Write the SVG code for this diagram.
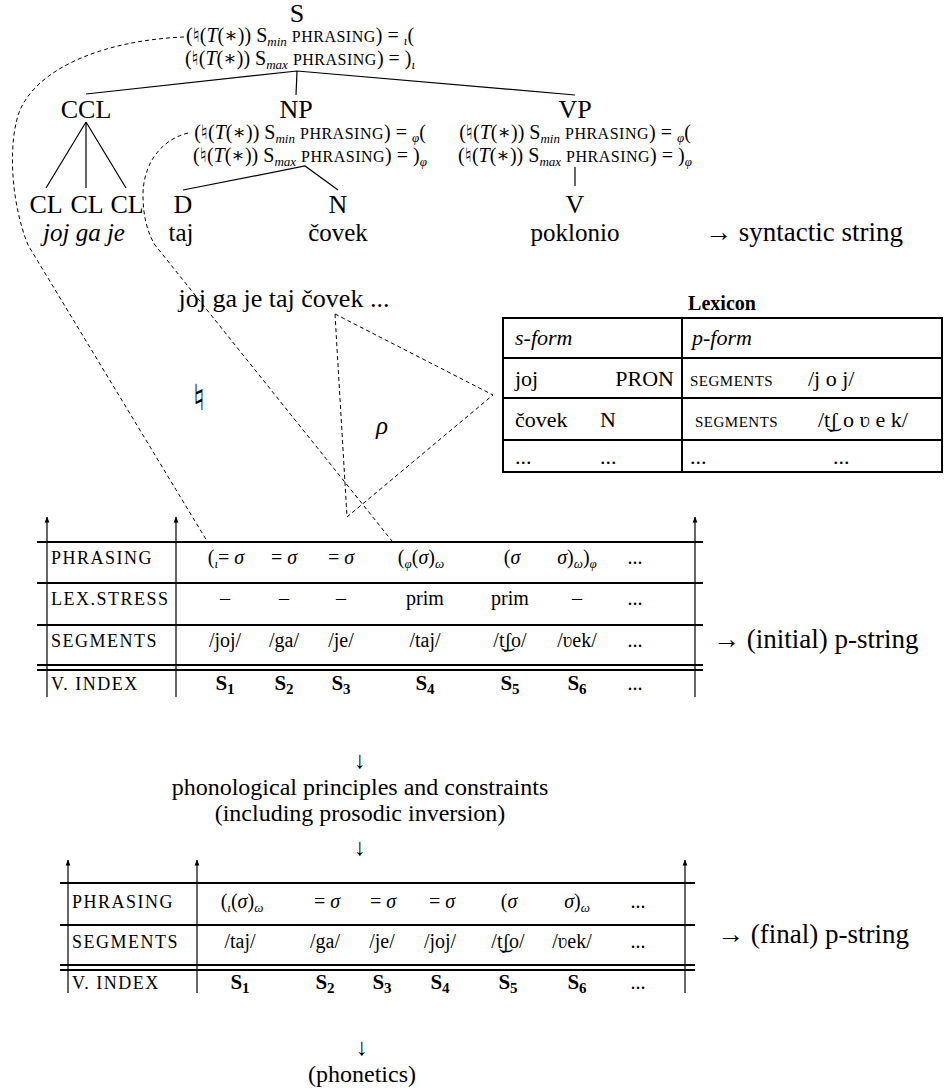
<svg xmlns="http://www.w3.org/2000/svg" width="945" height="1092" viewBox="0 0 945 1092">
<defs>
<style>
text{font-family:"Liberation Serif","DejaVu Serif",serif;fill:#000}
.node{font-size:26px}
.word{font-size:25px}
.ann{font-size:20px}
.as{font-size:13px;font-style:italic}
.asc{font-size:16px;letter-spacing:0.5px}
.it{font-style:italic}
.nat{font-family:"DejaVu Sans",sans-serif}
.cell{font-size:20px}
.cs{font-size:13px;font-style:italic}
.lab{font-size:18px;letter-spacing:1.5px}
.idx{font-size:21px;font-weight:bold}
.idxs{font-size:15px;font-weight:bold}
.lex{font-size:22px}
.lsc{font-size:15px;letter-spacing:0.5px}
.big{font-size:27px}
.mid{font-size:24px}
.ln{stroke:#000;stroke-width:1.2;fill:none}
.dash{stroke:#000;stroke-width:1;stroke-dasharray:4 3;fill:none}
.rule{stroke:#000;stroke-width:2}
.arr{stroke:#000;stroke-width:1.2;marker-end:url(#ah)}
</style>
<marker id="ah" viewBox="0 0 10 10" refX="9" refY="5" markerWidth="8" markerHeight="6" markerUnits="userSpaceOnUse" orient="auto">
<path d="M0,1 L10,5 L0,9 z" fill="#000"/>
</marker>
</defs>
<rect width="945" height="1092" fill="#fff"/>

<g id="connectors">
<path class="ln" d="M297 71 L86 94 M297 71 L296 95 M297 71 L575 95"/>
<path class="ln" d="M86 122 L46 188 M86 122 L86 188 M86 122 L126 188"/>
<path class="ln" d="M183 190 L305 166 L338 190"/>
<path class="ln" d="M575 167 L575 186"/>
<path class="dash" d="M184 37 C110 40 40 65 20 110 C8 140 10 200 28 245 L207 541"/>
<path class="dash" d="M188 133 C160 140 143 165 143 195 C143 215 147 232 155 245 L392 541"/>
<path class="dash" d="M335 314 L493 395 L347 517 Z"/>
<line class="arr" x1="47" y1="697" x2="47" y2="517"/>
<line class="arr" x1="176" y1="697" x2="176" y2="517"/>
<line class="arr" x1="695" y1="697" x2="695" y2="517"/>
<line class="arr" x1="68" y1="993" x2="68" y2="860"/>
<line class="arr" x1="197" y1="993" x2="197" y2="860"/>
<line class="arr" x1="685" y1="993" x2="685" y2="860"/>
</g>

<g id="node-S">
<text class="node" x="297" y="22" text-anchor="middle">S</text>
<text class="ann" x="300" y="42" text-anchor="middle">(<tspan class="nat">♮︎</tspan>(<tspan class="it">T</tspan>(∗)) S<tspan class="as" dy="4">min</tspan><tspan dy="-4"> </tspan><tspan class="asc">PHRASING</tspan>) = <tspan class="as" dy="3">ι</tspan><tspan dy="-3">(</tspan></text>
<text class="ann" x="300" y="65" text-anchor="middle">(<tspan class="nat">♮︎</tspan>(<tspan class="it">T</tspan>(∗)) S<tspan class="as" dy="4">max</tspan><tspan dy="-4"> </tspan><tspan class="asc">PHRASING</tspan>) = )<tspan class="as" dy="4">ι</tspan></text>
</g>

<g id="node-CCL">
<text class="node" x="86" y="118" text-anchor="middle">CCL</text>
</g>
<g id="node-NP">
<text class="node" x="296" y="118" text-anchor="middle">NP</text>
<text class="ann" x="310" y="139" text-anchor="middle">(<tspan class="nat">♮︎</tspan>(<tspan class="it">T</tspan>(∗)) S<tspan class="as" dy="4">min</tspan><tspan dy="-4"> </tspan><tspan class="asc">PHRASING</tspan>) = <tspan class="as" dy="3">φ</tspan><tspan dy="-3">(</tspan></text>
<text class="ann" x="310" y="162" text-anchor="middle">(<tspan class="nat">♮︎</tspan>(<tspan class="it">T</tspan>(∗)) S<tspan class="as" dy="4">max</tspan><tspan dy="-4"> </tspan><tspan class="asc">PHRASING</tspan>) = )<tspan class="as" dy="4">φ</tspan></text>
</g>
<g id="node-VP">
<text class="node" x="575" y="118" text-anchor="middle">VP</text>
<text class="ann" x="575" y="139" text-anchor="middle">(<tspan class="nat">♮︎</tspan>(<tspan class="it">T</tspan>(∗)) S<tspan class="as" dy="4">min</tspan><tspan dy="-4"> </tspan><tspan class="asc">PHRASING</tspan>) = <tspan class="as" dy="3">φ</tspan><tspan dy="-3">(</tspan></text>
<text class="ann" x="575" y="162" text-anchor="middle">(<tspan class="nat">♮︎</tspan>(<tspan class="it">T</tspan>(∗)) S<tspan class="as" dy="4">max</tspan><tspan dy="-4"> </tspan><tspan class="asc">PHRASING</tspan>) = )<tspan class="as" dy="4">φ</tspan></text>
</g>
<g id="node-CL1"><text class="node" x="46" y="213" text-anchor="middle">CL</text></g>
<g id="node-CL2"><text class="node" x="87" y="213" text-anchor="middle">CL</text></g>
<g id="node-CL3"><text class="node" x="127" y="213" text-anchor="middle">CL</text></g>
<g id="node-D"><text class="node" x="183" y="213" text-anchor="middle">D</text></g>
<g id="node-N"><text class="node" x="338" y="213" text-anchor="middle">N</text></g>
<g id="node-V"><text class="node" x="575" y="213" text-anchor="middle">V</text></g>

<g id="words">
<text class="word it" x="84" y="241" text-anchor="middle">joj ga je</text>
<text class="word" x="181" y="241" text-anchor="middle">taj</text>
<text class="word" x="338" y="241" text-anchor="middle">čovek</text>
<text class="word" x="575" y="241" text-anchor="middle">poklonio</text>
<text class="big" x="705" y="241">→ syntactic string</text>
<text class="node" x="284" y="307" text-anchor="middle">joj ga je taj čovek ...</text>
<text class="nat" x="199" y="410" font-size="36" text-anchor="middle">♮︎</text>
<text class="word it" x="382" y="434" text-anchor="middle">ρ</text>
</g>

<g id="lexicon">
<text x="722" y="310" font-size="20" font-weight="bold" text-anchor="middle">Lexicon</text>
<rect x="503" y="318" width="439" height="154" fill="none" stroke="#000" stroke-width="2"/>
<path class="rule" d="M503 358 H942 M503 398 H942 M503 440 H942 M682 318 V472"/>
<text class="lex it" x="515" y="345">s-form</text>
<text class="lex it" x="692" y="345">p-form</text>
<text class="lex" x="515" y="386">joj</text>
<text class="lex" x="674" y="386" text-anchor="end">PRON</text>
<text class="lsc" x="690" y="386">SEGMENTS</text>
<text class="lex" x="808" y="386">/j o j/</text>
<text class="lex" x="515" y="427">čovek</text>
<text class="lex" x="600" y="427">N</text>
<text class="lsc" x="695" y="427">SEGMENTS</text>
<text class="lex" x="818" y="427">/t͜ʃ o ʋ e k/</text>
<text class="lex" x="515" y="464">...</text>
<text class="lex" x="600" y="464">...</text>
<text class="lex" x="690" y="464">...</text>
<text class="lex" x="833" y="464">...</text>
</g>

<g id="pstring-initial">
<path class="rule" d="M37 542 H703 M37 583 H703 M37 625 H703 M37 665 H703 M37 670 H703"/>
<text class="lab" x="51" y="564">PHRASING</text>
<text class="lab" x="51" y="605">LEX.STRESS</text>
<text class="lab" x="51" y="647">SEGMENTS</text>
<text class="lab" x="51" y="690">V. INDEX</text>
<g class="cell" text-anchor="middle">
<text x="226" y="564">(<tspan class="cs" dy="4">ι</tspan><tspan dy="-4">= </tspan><tspan class="it">σ</tspan></text>
<text x="284" y="564">= <tspan class="it">σ</tspan></text>
<text x="341" y="564">= <tspan class="it">σ</tspan></text>
<text x="421" y="564">(<tspan class="cs" dy="4">φ</tspan><tspan dy="-4">(</tspan><tspan class="it">σ</tspan>)<tspan class="cs" dy="4">ω</tspan></text>
<text x="512" y="564">(<tspan class="it">σ</tspan></text>
<text x="577" y="564"><tspan class="it">σ</tspan>)<tspan class="cs" dy="4">ω</tspan><tspan dy="-4">)</tspan><tspan class="cs" dy="4">φ</tspan></text>
<text x="635" y="564">...</text>
<text x="225" y="605">–</text>
<text x="284" y="605">–</text>
<text x="341" y="605">–</text>
<text x="425" y="605">prim</text>
<text x="510" y="605">prim</text>
<text x="577" y="605">–</text>
<text x="635" y="605">...</text>
<text x="225" y="647">/joj/</text>
<text x="284" y="647">/ga/</text>
<text x="341" y="647">/je/</text>
<text x="425" y="647">/taj/</text>
<text x="510" y="647">/t͜ʃo/</text>
<text x="577" y="647">/ʋek/</text>
<text x="635" y="647">...</text>
</g>
<g class="idx" text-anchor="middle">
<text x="225" y="690">S<tspan class="idxs" dy="4">1</tspan></text>
<text x="284" y="690">S<tspan class="idxs" dy="4">2</tspan></text>
<text x="341" y="690">S<tspan class="idxs" dy="4">3</tspan></text>
<text x="425" y="690">S<tspan class="idxs" dy="4">4</tspan></text>
<text x="510" y="690">S<tspan class="idxs" dy="4">5</tspan></text>
<text x="577" y="690">S<tspan class="idxs" dy="4">6</tspan></text>
</g>
<text class="cell" x="635" y="690" text-anchor="middle">...</text>
<text class="big" x="713" y="648">→ (initial) p-string</text>
</g>

<g id="principles">
<text class="mid" x="360" y="768" text-anchor="middle">↓</text>
<text class="mid" x="360" y="795" text-anchor="middle">phonological principles and constraints</text>
<text class="mid" x="360" y="821" text-anchor="middle">(including prosodic inversion)</text>
<text class="mid" x="360" y="855" text-anchor="middle">↓</text>
</g>

<g id="pstring-final">
<path class="rule" d="M60 883 H695 M60 925 H695 M60 965 H695 M60 970 H695"/>
<text class="lab" x="72" y="908">PHRASING</text>
<text class="lab" x="72" y="948">SEGMENTS</text>
<text class="lab" x="72" y="989">V. INDEX</text>
<g class="cell" text-anchor="middle">
<text x="242" y="908">(<tspan class="cs" dy="4">ι</tspan><tspan dy="-4">(</tspan><tspan class="it">σ</tspan>)<tspan class="cs" dy="4">ω</tspan></text>
<text x="327" y="908">= <tspan class="it">σ</tspan></text>
<text x="383" y="908">= <tspan class="it">σ</tspan></text>
<text x="442" y="908">= <tspan class="it">σ</tspan></text>
<text x="509" y="908">(<tspan class="it">σ</tspan></text>
<text x="577" y="908"><tspan class="it">σ</tspan>)<tspan class="cs" dy="4">ω</tspan></text>
<text x="638" y="908">...</text>
<text x="240" y="948">/taj/</text>
<text x="325" y="948">/ga/</text>
<text x="382" y="948">/je/</text>
<text x="440" y="948">/joj/</text>
<text x="508" y="948">/t͜ʃo/</text>
<text x="572" y="948">/ʋek/</text>
<text x="638" y="948">...</text>
</g>
<g class="idx" text-anchor="middle">
<text x="240" y="989">S<tspan class="idxs" dy="4">1</tspan></text>
<text x="325" y="989">S<tspan class="idxs" dy="4">2</tspan></text>
<text x="382" y="989">S<tspan class="idxs" dy="4">3</tspan></text>
<text x="440" y="989">S<tspan class="idxs" dy="4">4</tspan></text>
<text x="508" y="989">S<tspan class="idxs" dy="4">5</tspan></text>
<text x="577" y="989">S<tspan class="idxs" dy="4">6</tspan></text>
</g>
<text class="cell" x="638" y="989" text-anchor="middle">...</text>
<text class="big" x="717" y="943">→ (final) p-string</text>
</g>

<g id="phonetics">
<text class="mid" x="362" y="1055" text-anchor="middle">↓</text>
<text class="mid" x="362" y="1082" text-anchor="middle">(phonetics)</text>
</g>
</svg>
